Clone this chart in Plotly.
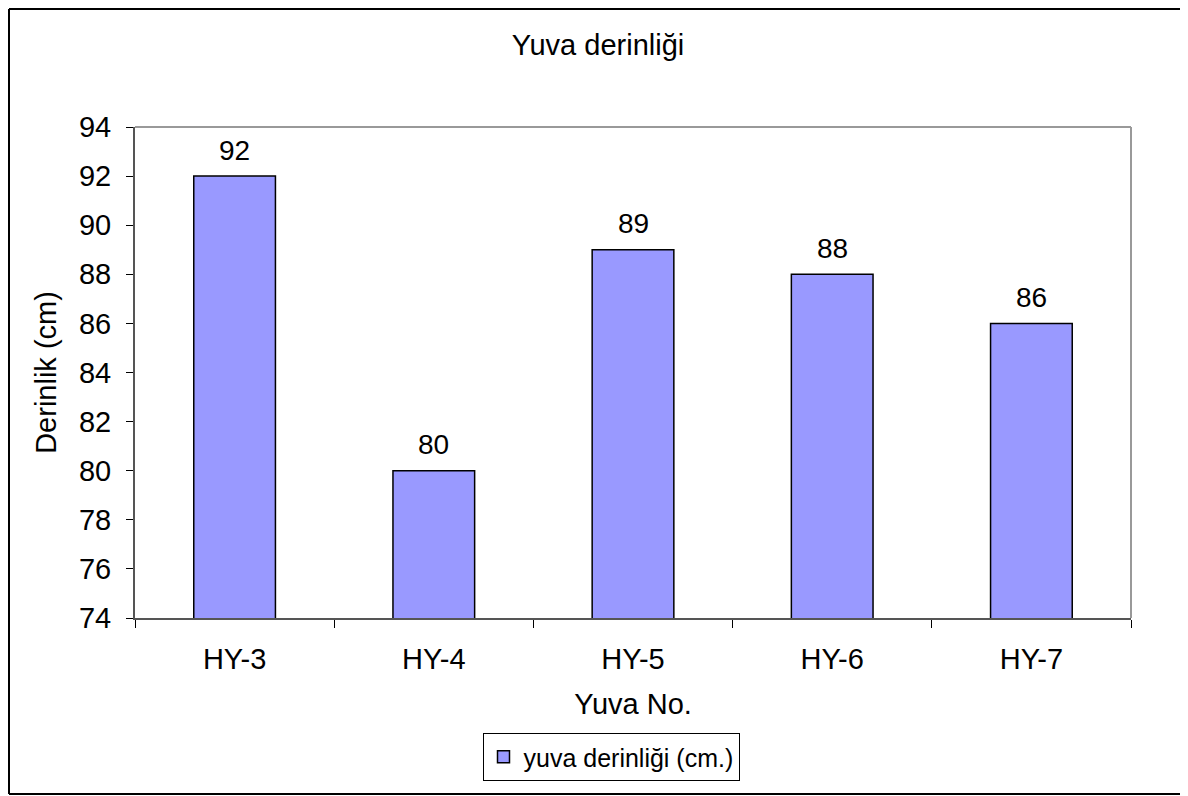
import plotly.graph_objects as go

categories = ["HY-3", "HY-4", "HY-5", "HY-6", "HY-7"]
values = [92, 80, 89, 88, 86]
series_name = "yuva derinliği (cm.)"
title_text = "Yuva derinliği"
x_title = "Yuva No."
y_title = "Derinlik (cm)"

# figure coordinates (the page adds an 8px body margin)
W, H = 1180, 788
L, R, T, B = 127, 1123, 119, 610
pw, ph = R - L, B - T

def px(x):
    return (x - L) / pw

def py(y):
    return (B - y) / ph

FONT = "Liberation Sans, Arial, sans-serif"
FS = 29

fig = go.Figure()
fig.add_trace(go.Bar(
    x=categories, y=values, name=series_name,
    marker=dict(color="#9999FF", line=dict(color="black", width=1.5)),
    showlegend=True,
))

annotations = [
    dict(x=c, y=v, xref="x", yref="y", text=str(v), showarrow=False,
         yanchor="middle", yshift=26, font=dict(size=28, family=FONT, color="black"))
    for c, v in zip(categories, values)
]

fig.update_layout(
    width=W, height=H,
    margin=dict(l=L, r=W - R, t=T, b=H - B),
    paper_bgcolor="white", plot_bgcolor="white",
    font=dict(family=FONT, size=FS, color="black"),
    bargap=0.59,
    title=dict(text=title_text, x=0.5, xanchor="center", y=1 - 37 / H, yanchor="middle",
               font=dict(size=FS, family=FONT)),
    showlegend=True,
    legend=dict(x=px(603), y=py(749), xanchor="center", yanchor="middle",
                orientation="h", bordercolor="black", borderwidth=1,
                font=dict(size=25, family=FONT), itemwidth=30,
                bgcolor="white"),
    annotations=annotations,
    xaxis=dict(
        showgrid=False, showline=True, linecolor="#555555", linewidth=2,
        ticks="outside", ticklen=8, tickcolor="black", tickson="boundaries",
        tickfont=dict(size=FS), ticklabelstandoff=14,
        title=dict(text=x_title, font=dict(size=FS), standoff=20),
    ),
    yaxis=dict(
        range=[74, 94], dtick=2, showgrid=False, showline=True,
        linecolor="#555555", linewidth=2, ticks="outside", ticklen=7,
        tickcolor="black", tickfont=dict(size=FS), zeroline=False,
        ticklabelstandoff=9,
        title=dict(text=y_title, font=dict(size=FS), standoff=14),
    ),
    shapes=[
        dict(type="line", xref="paper", yref="paper", x0=0, x1=1, y0=1, y1=1,
             line=dict(color="#999999", width=2)),
        dict(type="line", xref="paper", yref="paper", x0=1, x1=1, y0=0, y1=1,
             line=dict(color="#999999", width=2)),
        dict(type="line", xref="paper", yref="paper", x0=px(1), x1=px(1200), y0=py(1), y1=py(1),
             line=dict(color="black", width=2)),
        dict(type="line", xref="paper", yref="paper", x0=px(1), x1=px(1200), y0=py(786), y1=py(786),
             line=dict(color="black", width=2)),
        dict(type="line", xref="paper", yref="paper", x0=px(1), x1=px(1), y0=py(1), y1=py(786),
             line=dict(color="black", width=2)),
    ],
)

fig.write_html("out.html")
